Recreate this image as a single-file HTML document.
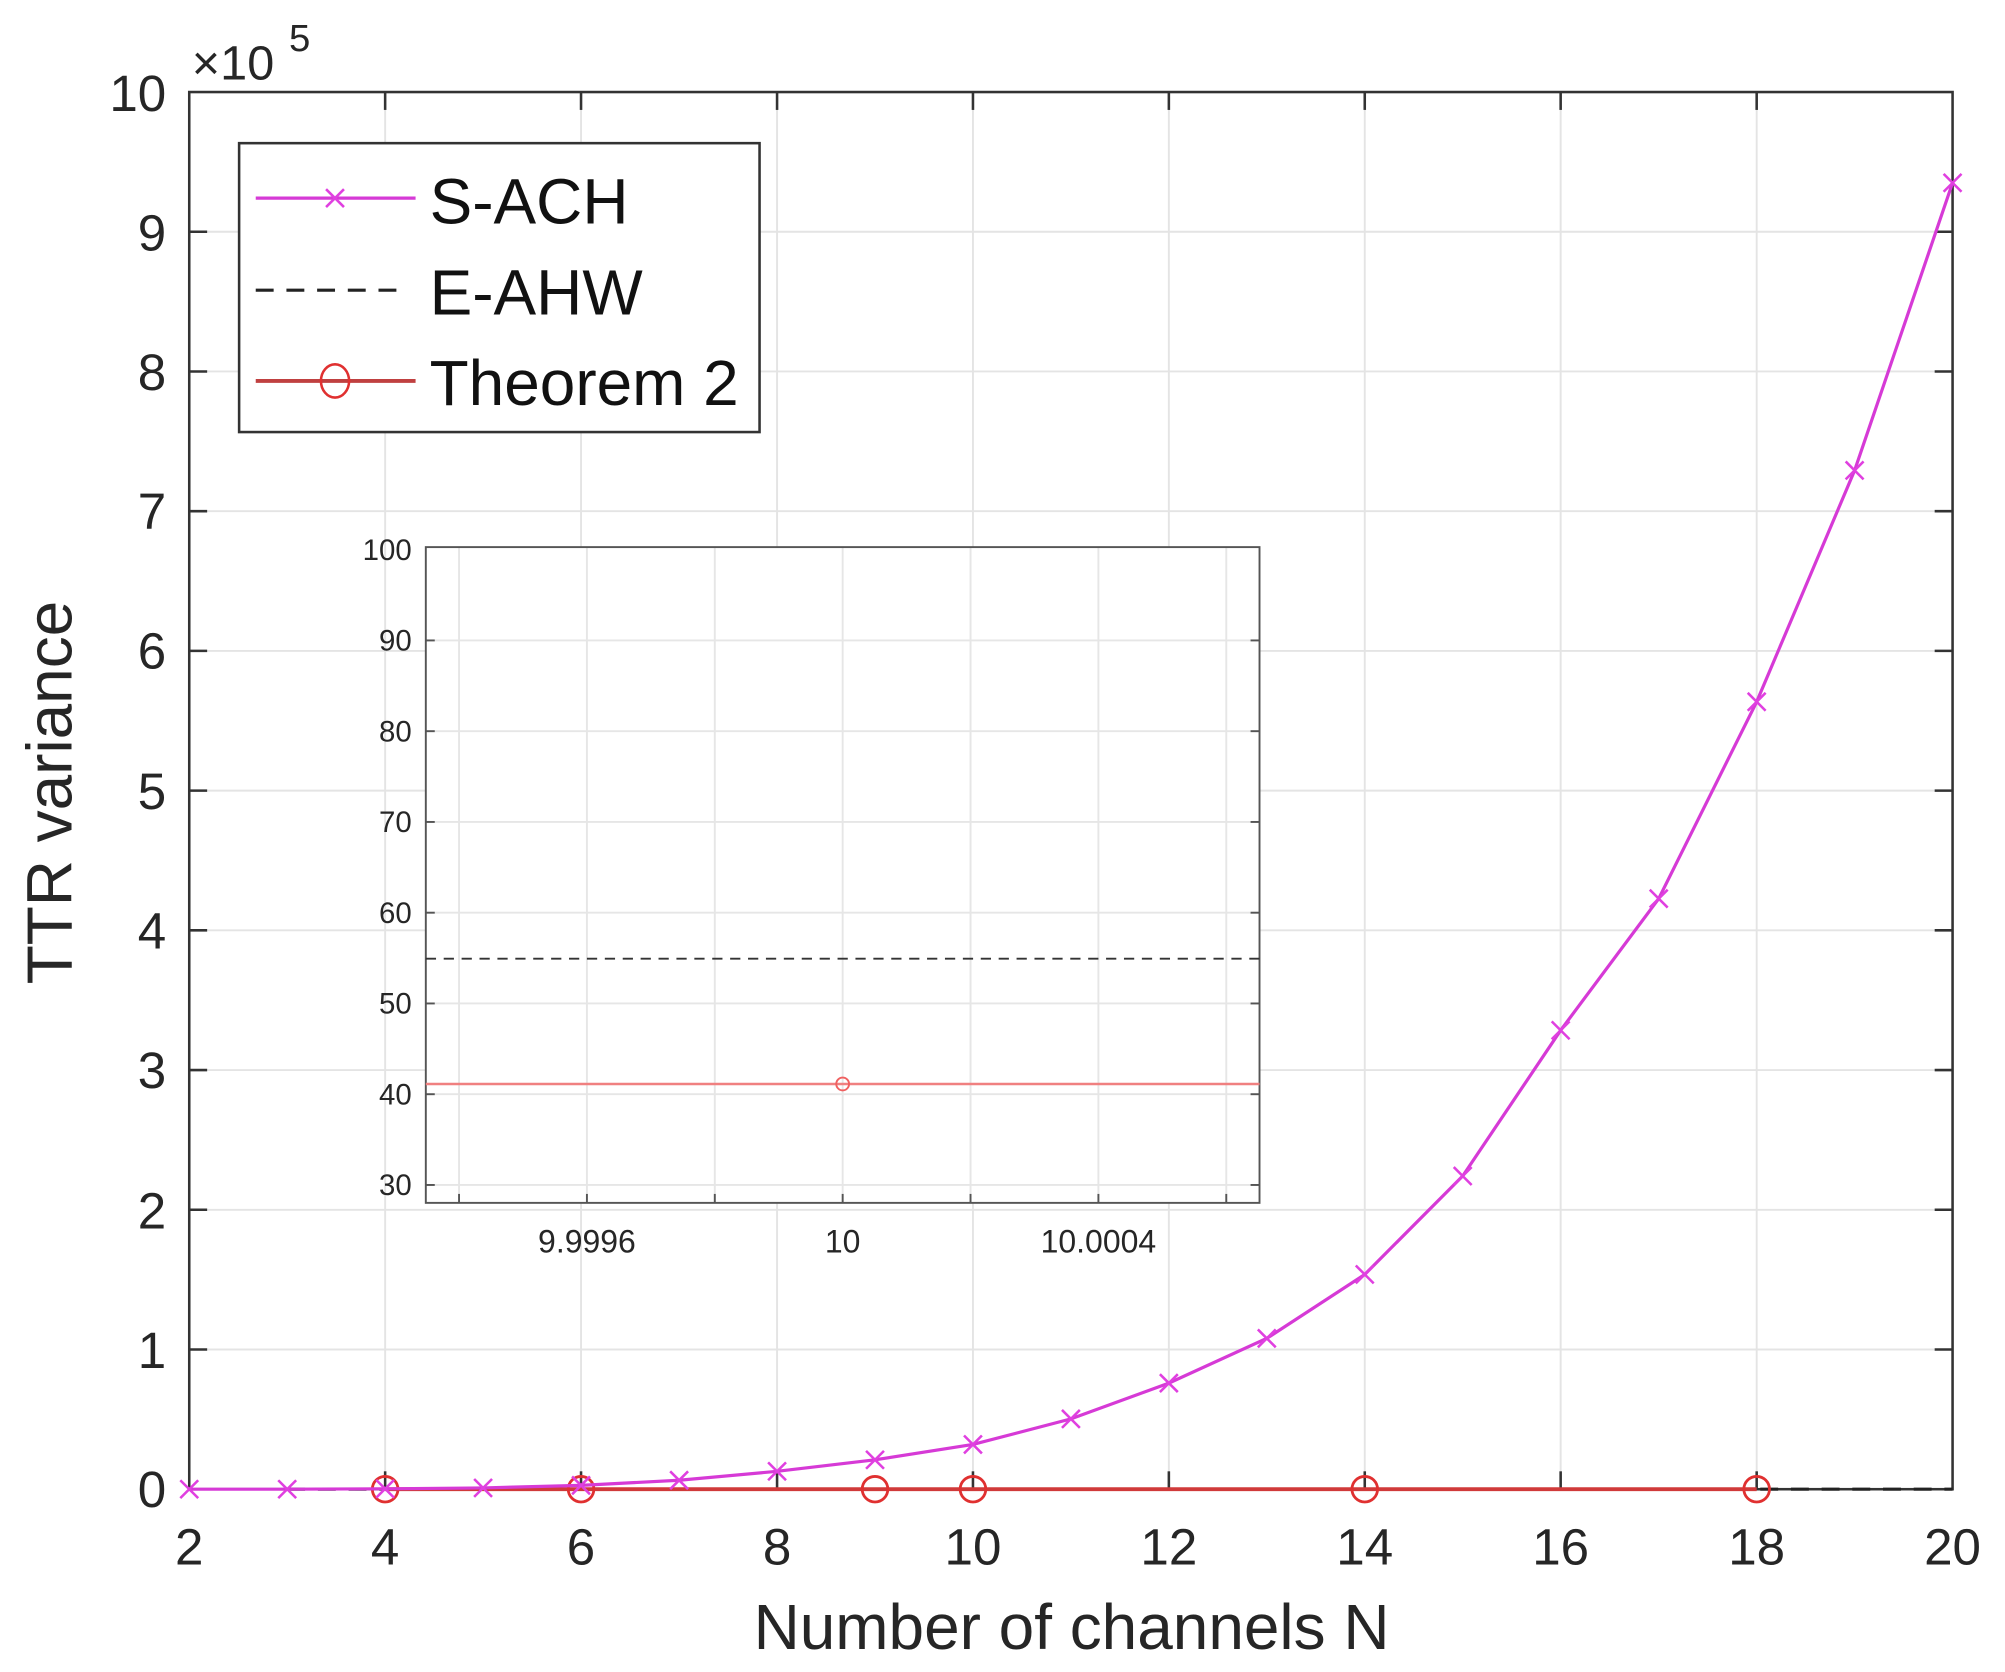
<!DOCTYPE html>
<html><head><meta charset="utf-8"><style>
html,body{margin:0;padding:0;background:#fff;}
svg{display:block;}
text{font-family:"Liberation Sans",sans-serif;fill:#262626;}
</style></head><body>
<svg width="2005" height="1672" viewBox="0 0 1568 1308" preserveAspectRatio="none" xmlns="http://www.w3.org/2000/svg">
<rect x="0" y="0" width="1568" height="1308" fill="#fff"/>
<g stroke="#e4e4e4" stroke-width="1.5">
<line x1="301.2" y1="72" x2="301.2" y2="1165"/><line x1="454.4" y1="72" x2="454.4" y2="1165"/>
<line x1="607.7" y1="72" x2="607.7" y2="1165"/><line x1="760.9" y1="72" x2="760.9" y2="1165"/>
<line x1="914.1" y1="72" x2="914.1" y2="1165"/><line x1="1067.3" y1="72" x2="1067.3" y2="1165"/>
<line x1="1220.5" y1="72" x2="1220.5" y2="1165"/><line x1="1373.8" y1="72" x2="1373.8" y2="1165"/>
<line x1="148" y1="1055.7" x2="1527" y2="1055.7"/><line x1="148" y1="946.4" x2="1527" y2="946.4"/>
<line x1="148" y1="837.1" x2="1527" y2="837.1"/><line x1="148" y1="727.8" x2="1527" y2="727.8"/>
<line x1="148" y1="618.5" x2="1527" y2="618.5"/><line x1="148" y1="509.2" x2="1527" y2="509.2"/>
<line x1="148" y1="399.9" x2="1527" y2="399.9"/><line x1="148" y1="290.6" x2="1527" y2="290.6"/>
<line x1="148" y1="181.3" x2="1527" y2="181.3"/>
</g>
<rect x="148" y="72" width="1379" height="1093" fill="none" stroke="#333" stroke-width="2"/>
<g stroke="#333" stroke-width="2">
<line x1="301.2" y1="1165" x2="301.2" y2="1151"/><line x1="454.4" y1="1165" x2="454.4" y2="1151"/>
<line x1="607.7" y1="1165" x2="607.7" y2="1151"/><line x1="760.9" y1="1165" x2="760.9" y2="1151"/>
<line x1="914.1" y1="1165" x2="914.1" y2="1151"/><line x1="1067.3" y1="1165" x2="1067.3" y2="1151"/>
<line x1="1220.5" y1="1165" x2="1220.5" y2="1151"/><line x1="1373.8" y1="1165" x2="1373.8" y2="1151"/>
<line x1="301.2" y1="72" x2="301.2" y2="86"/><line x1="454.4" y1="72" x2="454.4" y2="86"/>
<line x1="607.7" y1="72" x2="607.7" y2="86"/><line x1="760.9" y1="72" x2="760.9" y2="86"/>
<line x1="914.1" y1="72" x2="914.1" y2="86"/><line x1="1067.3" y1="72" x2="1067.3" y2="86"/>
<line x1="1220.5" y1="72" x2="1220.5" y2="86"/><line x1="1373.8" y1="72" x2="1373.8" y2="86"/>
<line x1="148" y1="1055.7" x2="162" y2="1055.7"/><line x1="148" y1="946.4" x2="162" y2="946.4"/>
<line x1="148" y1="837.1" x2="162" y2="837.1"/><line x1="148" y1="727.8" x2="162" y2="727.8"/>
<line x1="148" y1="618.5" x2="162" y2="618.5"/><line x1="148" y1="509.2" x2="162" y2="509.2"/>
<line x1="148" y1="399.9" x2="162" y2="399.9"/><line x1="148" y1="290.6" x2="162" y2="290.6"/>
<line x1="148" y1="181.3" x2="162" y2="181.3"/>
<line x1="1527" y1="1055.7" x2="1513" y2="1055.7"/><line x1="1527" y1="946.4" x2="1513" y2="946.4"/>
<line x1="1527" y1="837.1" x2="1513" y2="837.1"/><line x1="1527" y1="727.8" x2="1513" y2="727.8"/>
<line x1="1527" y1="618.5" x2="1513" y2="618.5"/><line x1="1527" y1="509.2" x2="1513" y2="509.2"/>
<line x1="1527" y1="399.9" x2="1513" y2="399.9"/><line x1="1527" y1="290.6" x2="1513" y2="290.6"/>
<line x1="1527" y1="181.3" x2="1513" y2="181.3"/>
</g>
<g font-size="40" text-anchor="middle">
<text x="148" y="1224">2</text><text x="301.2" y="1224">4</text><text x="454.4" y="1224">6</text>
<text x="607.7" y="1224">8</text><text x="760.9" y="1224">10</text><text x="914.1" y="1224">12</text>
<text x="1067.3" y="1224">14</text><text x="1220.5" y="1224">16</text><text x="1373.8" y="1224">18</text>
<text x="1527" y="1224">20</text>
</g>
<g font-size="40" text-anchor="end">
<text x="130" y="1179">0</text><text x="130" y="1070">1</text><text x="130" y="961">2</text>
<text x="130" y="851">3</text><text x="130" y="742">4</text><text x="130" y="633">5</text>
<text x="130" y="523">6</text><text x="130" y="414">7</text><text x="130" y="305">8</text>
<text x="130" y="196">9</text><text x="130" y="87">10</text>
</g>
<text x="150" y="62" font-size="38">×10</text>
<text x="226" y="40" font-size="30">5</text>
<text x="838" y="1290" font-size="50" text-anchor="middle">Number of channels N</text>
<text transform="translate(56,620) rotate(-90)" font-size="50" text-anchor="middle">TTR variance</text>
<line x1="224.6" y1="1165" x2="1527" y2="1165" stroke="#222" stroke-width="2.5" stroke-dasharray="14,10"/>
<line x1="301.2" y1="1165" x2="1373.8" y2="1165" stroke="#d03a3a" stroke-width="3"/>
<g fill="none" stroke="#e03030" stroke-width="2.2">
<circle cx="301.2" cy="1165" r="10"/><circle cx="454.4" cy="1165" r="10"/><circle cx="684.3" cy="1165" r="10"/>
<circle cx="760.9" cy="1165" r="10"/><circle cx="1067.3" cy="1165" r="10"/><circle cx="1373.8" cy="1165" r="10"/>
</g>
<polyline fill="none" stroke="#d63ad6" stroke-width="2.5" points="148,1165 224.6,1165 301.2,1164.7 377.8,1164 454.4,1162 531.1,1158 607.7,1151 684.3,1142 760.9,1130 837.5,1110 914.1,1082 990.7,1047 1067.3,997 1143.9,920 1220.5,806 1297.2,703 1373.8,549 1450.4,368 1527,143"/>
<g stroke="#e040e0" stroke-width="2">
<path d="M141,1158l14,14M155,1158l-14,14"/>
<path d="M217.6,1158l14,14M231.6,1158l-14,14"/>
<path d="M294.2,1157.7l14,14M308.2,1157.7l-14,14"/>
<path d="M370.8,1157l14,14M384.8,1157l-14,14"/>
<path d="M447.4,1155l14,14M461.4,1155l-14,14"/>
<path d="M524.1,1151l14,14M538.1,1151l-14,14"/>
<path d="M600.7,1144l14,14M614.7,1144l-14,14"/>
<path d="M677.3,1135l14,14M691.3,1135l-14,14"/>
<path d="M753.9,1123l14,14M767.9,1123l-14,14"/>
<path d="M830.5,1103l14,14M844.5,1103l-14,14"/>
<path d="M907.1,1075l14,14M921.1,1075l-14,14"/>
<path d="M983.7,1040l14,14M997.7,1040l-14,14"/>
<path d="M1060.3,990l14,14M1074.3,990l-14,14"/>
<path d="M1136.9,913l14,14M1150.9,913l-14,14"/>
<path d="M1213.5,799l14,14M1227.5,799l-14,14"/>
<path d="M1290.2,696l14,14M1304.2,696l-14,14"/>
<path d="M1366.8,542l14,14M1380.8,542l-14,14"/>
<path d="M1443.4,361l14,14M1457.4,361l-14,14"/>
<path d="M1520,136l14,14M1534,136l-14,14"/>
</g>
<rect x="187" y="112" width="407" height="226" fill="#fff" stroke="#333" stroke-width="2"/>
<line x1="200" y1="155" x2="325" y2="155" stroke="#d63ad6" stroke-width="2.5"/>
<path d="M255,148l14,14M269,148l-14,14" stroke="#e040e0" stroke-width="2"/>
<line x1="200" y1="227" x2="320" y2="227" stroke="#222" stroke-width="2.5" stroke-dasharray="14,10"/>
<line x1="200" y1="298" x2="325" y2="298" stroke="#c04040" stroke-width="3"/>
<ellipse cx="262" cy="298" rx="11" ry="13" fill="none" stroke="#e03030" stroke-width="2"/>
<g font-size="50">
<text x="336" y="175" style="fill:#111">S-ACH</text>
<text x="336" y="246" style="fill:#111">E-AHW</text>
<text x="336" y="317" style="fill:#111">Theorem 2</text>
</g>
<rect x="333" y="428" width="652" height="513" fill="#fff"/>
<g stroke="#e6e6e6" stroke-width="1.5">
<line x1="359" y1="428" x2="359" y2="941"/><line x1="459" y1="428" x2="459" y2="941"/>
<line x1="559" y1="428" x2="559" y2="941"/><line x1="659" y1="428" x2="659" y2="941"/>
<line x1="759" y1="428" x2="759" y2="941"/><line x1="859" y1="428" x2="859" y2="941"/>
<line x1="959" y1="428" x2="959" y2="941"/>
<line x1="333" y1="501" x2="985" y2="501"/><line x1="333" y1="572" x2="985" y2="572"/>
<line x1="333" y1="643" x2="985" y2="643"/><line x1="333" y1="714" x2="985" y2="714"/>
<line x1="333" y1="785" x2="985" y2="785"/><line x1="333" y1="856" x2="985" y2="856"/>
<line x1="333" y1="927" x2="985" y2="927"/>
</g>
<rect x="333" y="428" width="652" height="513" fill="none" stroke="#555" stroke-width="1.5"/>
<g stroke="#555" stroke-width="1.5">
<line x1="359" y1="941" x2="359" y2="934"/><line x1="459" y1="941" x2="459" y2="934"/>
<line x1="559" y1="941" x2="559" y2="934"/><line x1="659" y1="941" x2="659" y2="934"/>
<line x1="759" y1="941" x2="759" y2="934"/><line x1="859" y1="941" x2="859" y2="934"/>
<line x1="959" y1="941" x2="959" y2="934"/>
<line x1="333" y1="501" x2="340" y2="501"/><line x1="333" y1="572" x2="340" y2="572"/>
<line x1="333" y1="643" x2="340" y2="643"/><line x1="333" y1="714" x2="340" y2="714"/>
<line x1="333" y1="785" x2="340" y2="785"/><line x1="333" y1="856" x2="340" y2="856"/>
<line x1="333" y1="927" x2="340" y2="927"/>
<line x1="985" y1="501" x2="978" y2="501"/><line x1="985" y1="572" x2="978" y2="572"/>
<line x1="985" y1="643" x2="978" y2="643"/><line x1="985" y1="714" x2="978" y2="714"/>
<line x1="985" y1="785" x2="978" y2="785"/><line x1="985" y1="856" x2="978" y2="856"/>
<line x1="985" y1="927" x2="978" y2="927"/>
</g>
<line x1="333" y1="750" x2="985" y2="750" stroke="#333" stroke-width="1.5" stroke-dasharray="8,6"/>
<line x1="333" y1="848" x2="985" y2="848" stroke="#f08080" stroke-width="2"/>
<circle cx="659" cy="848" r="5" fill="none" stroke="#f06060" stroke-width="1.5"/>
<g font-size="23" text-anchor="end">
<text x="322" y="438">100</text><text x="322" y="509">90</text><text x="322" y="580">80</text>
<text x="322" y="651">70</text><text x="322" y="722">60</text><text x="322" y="793">50</text>
<text x="322" y="864">40</text><text x="322" y="935">30</text>
</g>
<g font-size="25" text-anchor="middle">
<text x="459" y="980">9.9996</text><text x="659" y="980">10</text><text x="859" y="980">10.0004</text>
</g>
</svg>
</body></html>
